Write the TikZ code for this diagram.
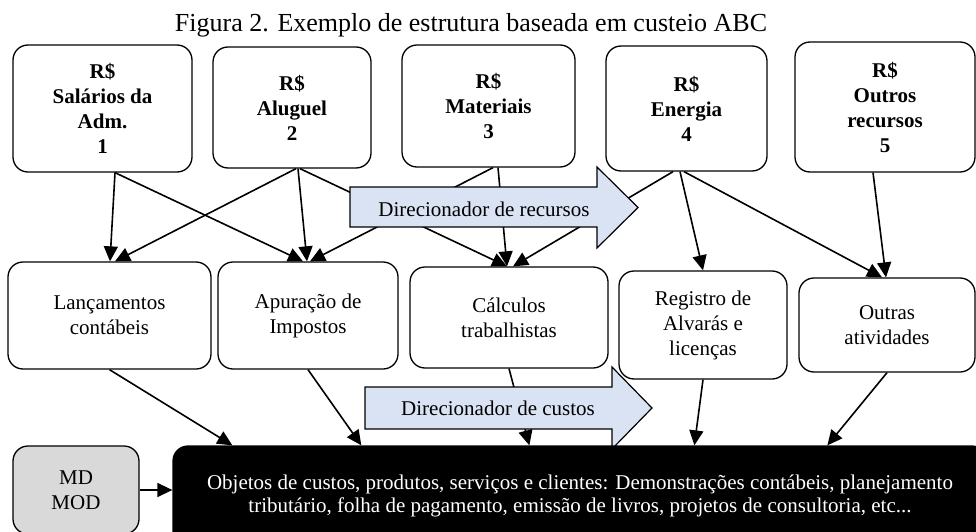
\documentclass[tikz,border=0pt]{standalone}
\usepackage{fontspec}
\setmainfont{Liberation Serif}
\usetikzlibrary{arrows.meta,backgrounds}
\definecolor{drvblue}{RGB}{218,227,243}
\definecolor{mdgray}{RGB}{217,217,217}
\begin{document}
\begin{tikzpicture}[x=1pt, y=-1pt, font=\fontsize{21}{25}\selectfont,
	main/.style = {draw, rounded corners=15pt, line width=1.3pt, align=center, inner sep=0pt},
	res/.style = {main, font=\fontsize{21}{25}\selectfont\bfseries},
	arr/.style = {-{Triangle[length=15pt, width=14pt]}, line width=1.6pt},
	driver/.style = {draw, fill=drvblue, line width=1.2pt}]
			\useasboundingbox (0,0) rectangle (976,532);
			\clip (0,0) rectangle (976,532);
			\node[anchor=base, font=\fontsize{26}{30}\selectfont] (0) at (471,32) {Figura 2. Exemplo de estrutura baseada em custeio ABC};
			\node[res, minimum width=179pt, minimum height=127pt] (1) at (102.5,108.5) {R\$\\Salários da\\Adm.\\1};
			\node[res, minimum width=158pt, minimum height=121pt] (2) at (292,107.5) {R\$\\Aluguel\\2};
			\node[res, minimum width=173pt, minimum height=122pt] (3) at (488.5,106) {R\$\\Materiais\\3};
			\node[res, minimum width=161pt, minimum height=125pt] (4) at (686.5,108.5) {R\$\\Energia\\4};
			\node[res, minimum width=180pt, minimum height=130pt] (5) at (885,107) {R\$\\Outros\\recursos\\5};
			\node[main, minimum width=203pt, minimum height=107pt] (6) at (109.5,315.5) {Lançamentos\\contábeis};
			\node[main, minimum width=180pt, minimum height=107pt] (7) at (308,315.5) {Apuração de\\Impostos};
			\node[main, minimum width=198pt, minimum height=101pt] (8) at (509,317.5) {Cálculos\\trabalhistas};
			\node[main, minimum width=168pt, minimum height=108pt] (9) at (703,325) {Registro de\\Alvarás e\\licenças};
			\node[main, minimum width=176pt, minimum height=94pt] (10) at (887,325) {Outras\\atividades};
			\node[main, fill=mdgray, minimum width=126pt, minimum height=88pt] (11) at (76,490) {MD\\MOD};
			\node[main, fill=black, text=white, minimum width=814pt, minimum height=100pt,
				font=\fontsize{21}{23}\selectfont] (12) at (580,496) {Objetos de custos, produtos, serviços e clientes: Demonstrações contábeis, planejamento\\tributário, folha de pagamento, emissão de livros, projetos de consultoria, etc...};
			\node (13) at (484,209) {Direcionador de recursos};
			\node (14) at (498,408) {Direcionador de custos};
			\begin{scope}[on background layer]
			\draw[arr] ([xshift=12.5pt]1.south) -- ([xshift=0.5pt]6.north);
			\draw[arr] ([xshift=12.5pt]1.south) -- ([xshift=-5pt]7.north);
			\draw[arr] ([xshift=4pt]2.south) -- ([xshift=5.5pt]6.north);
			\draw[arr] ([xshift=6pt]2.south) -- ([xshift=-1pt]7.north);
			\draw[arr] ([xshift=8pt]2.south) -- ([xshift=-2pt]8.north);
			\draw[arr] ([xshift=4.5pt]3.south) -- ([xshift=2pt]7.north);
			\draw[arr] ([xshift=9.5pt]3.south) -- ([xshift=-2pt]8.north);
			\draw[arr] ([xshift=-13.5pt]4.south) -- ([xshift=4pt]8.north);
			\draw[arr] ([xshift=-6.5pt]4.south) -- (9.north);
			\draw[arr] ([xshift=-2.5pt]4.south) -- ([xshift=-5pt]10.north);
			\draw[arr] ([xshift=-12pt]5.south) -- ([xshift=-1pt]10.north);
			\draw[arr] (6.south) -- ([xshift=60pt]12.north west);
			\draw[arr] (7.south) -- ([xshift=189pt]12.north west);
			\draw[arr] (8.south) -- ([xshift=357pt]12.north west);
			\draw[arr] (9.south) -- ([xshift=522pt]12.north west);
			\draw[arr] (10.south) -- ([xshift=655pt]12.north west);
			\draw[arr] (11.east) -- (11.east -| 12.west);
			\draw[driver] (350,187) -- (597,187) -- (597,167) -- (638,207.5) -- (597,248) -- (597,227) -- (350,227) -- cycle;
			\draw[driver] (365,387) -- (612,387) -- (612,367) -- (652,408) -- (612,449) -- (612,429) -- (365,429) -- cycle;
			\end{scope}
		\end{tikzpicture}
\end{document}
